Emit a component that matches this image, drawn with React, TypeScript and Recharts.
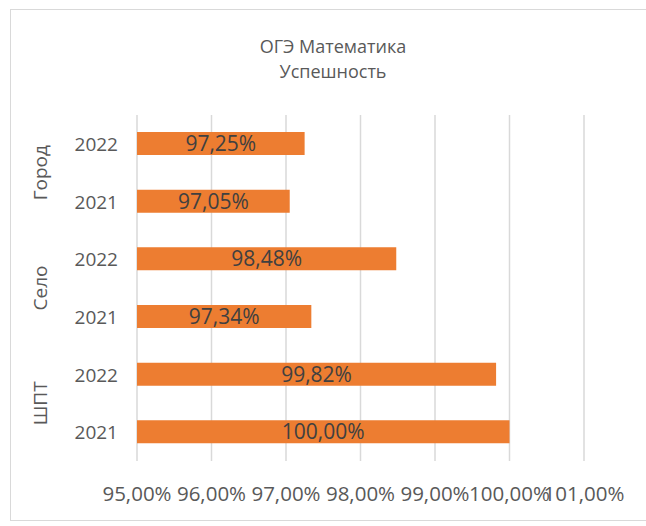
import React from 'react';
import { BarChart, Bar, XAxis, YAxis, CartesianGrid, LabelList } from 'recharts';

const groups = ['Город', 'Село', 'ШПТ'];
const years = ['2022', '2021'];
const values = [97.25, 97.05, 98.48, 97.34, 99.82, 100.0];
const xTicks = [95, 96, 97, 98, 99, 100, 101];

const rows = values.map((v, i) => ({
  key: groups[Math.floor(i / 2)] + ' ' + years[i % 2],
  group: groups[Math.floor(i / 2)],
  year: years[i % 2],
  value: v,
}));

const FONT = '"Open Sans", "Noto Sans", sans-serif';
const fmt = (v: number) => v.toFixed(2).replace('.', ',') + '%';

const YearTick = (props: any) => {
  const { y, payload, index } = props;
  const row = rows.find((r) => r.key === payload.value) || rows[index];
  const half = payload.offset || 29;
  const first = index % 2 === 0;
  return (
    <g>
      <text x={118} y={y} dy={7} textAnchor="end" fill="#595959" fontSize={19} fontFamily={FONT}>
        {row.year}
      </text>
      {first && (
        <text
          x={40}
          y={y + half}
          dy={7}
          textAnchor="middle"
          fill="#595959"
          fontSize={19}
          fontFamily={FONT}
          transform={`rotate(-90, 40, ${y + half})`}
        >
          {row.group}
        </text>
      )}
    </g>
  );
};

export default function App() {
  return (
    <div style={{ position: 'absolute', left: 0, top: 0, width: 646, height: 526, background: '#fff', overflow: 'hidden' }}>
      <div
        style={{
          position: 'absolute',
          left: 10,
          top: 9,
          width: 660,
          height: 512,
          border: '1px solid #d9d9d9',
          boxSizing: 'border-box',
        }}
      />
      <div
        style={{
          position: 'absolute',
          left: 0,
          width: 666,
          top: 34,
          textAlign: 'center',
          fontFamily: FONT,
          fontSize: 18,
          lineHeight: '25px',
          color: '#595959',
        }}
      >
        ОГЭ Математика
        <br />
        Успешность
      </div>
      <div style={{ position: 'absolute', left: 0, top: 0 }}>
        <BarChart
          width={646}
          height={526}
          data={rows}
          layout="vertical"
          margin={{ top: 115, right: 62, bottom: 0, left: 0 }}
        >
          <CartesianGrid horizontal={false} stroke="#d9d9d9" strokeWidth={1.5} />
          <XAxis
            type="number"
            domain={[95, 101]}
            ticks={xTicks}
            interval={0}
            axisLine={false}
            tickLine={false}
            tickFormatter={fmt}
            tick={{ fill: '#595959', fontSize: 20.5, fontFamily: FONT }}
            dy={17}
            height={65}
          />
          <YAxis
            type="category"
            dataKey="key"
            width={137}
            axisLine={false}
            tickLine={false}
            interval={0}
            tick={<YearTick />}
          />
          <Bar dataKey="value" fill="#ED7D31" barSize={23} isAnimationActive={false}>
            <LabelList
              dataKey="value"
              position="center"
              formatter={(v: any) => fmt(Number(v))}
              fill="#404040"
              fontSize={21}
              fontFamily={FONT}
            />
          </Bar>
        </BarChart>
      </div>
    </div>
  );
}
